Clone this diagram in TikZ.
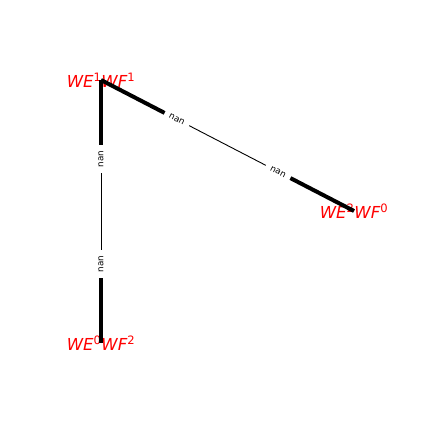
\documentclass[tikz,border=0pt]{standalone}
\usepackage{fontspec}
\setmainfont{DejaVu Sans}
\usetikzlibrary{calc}

\begin{document}
\begin{tikzpicture}[
    x=1pt, y=-1pt,
    state/.style={text=red, inner sep=0pt,
                  font=\fontsize{16.5}{18}\selectfont\itshape},
    heavy/.style={line width=4pt, black},
    light/.style={line width=0.9pt, black},
    weight/.style={fill=white, inner sep=5.5pt, sloped,
                   font=\fontsize{8.8}{10}\selectfont}
]
\useasboundingbox (0,0) rectangle (432,432);

% States
\node[state] (we1wf1) at (101,80) {WE\textsuperscript{\upshape 1}WF\textsuperscript{\upshape 1}};
\node[state] (we2wf0) at (354,211) {WE\textsuperscript{\upshape 2}WF\textsuperscript{\upshape 0}};
\node[state] (we0wf2) at (101,343) {WE\textsuperscript{\upshape 0}WF\textsuperscript{\upshape 2}};

% Heavy ends of the edges
\draw[heavy] (we1wf1.center) -- ($(we1wf1.center)!0.3!(we2wf0.center)$);
\draw[heavy] (we2wf0.center) -- ($(we2wf0.center)!0.3!(we1wf1.center)$);
\draw[heavy] (we1wf1.center) -- ($(we1wf1.center)!0.3!(we0wf2.center)$);
\draw[heavy] (we0wf2.center) -- ($(we0wf2.center)!0.3!(we1wf1.center)$);

% Edges with weights
\draw[light] (we1wf1.center) -- node[weight, pos=0.3] (w1) {nan}
    node[weight, pos=0.7] (w2) {nan} (we2wf0.center);
\draw[light] (we0wf2.center) -- node[weight, pos=0.3] (w3) {nan}
    node[weight, pos=0.7] (w4) {nan} (we1wf1.center);

\end{tikzpicture}
\end{document}
